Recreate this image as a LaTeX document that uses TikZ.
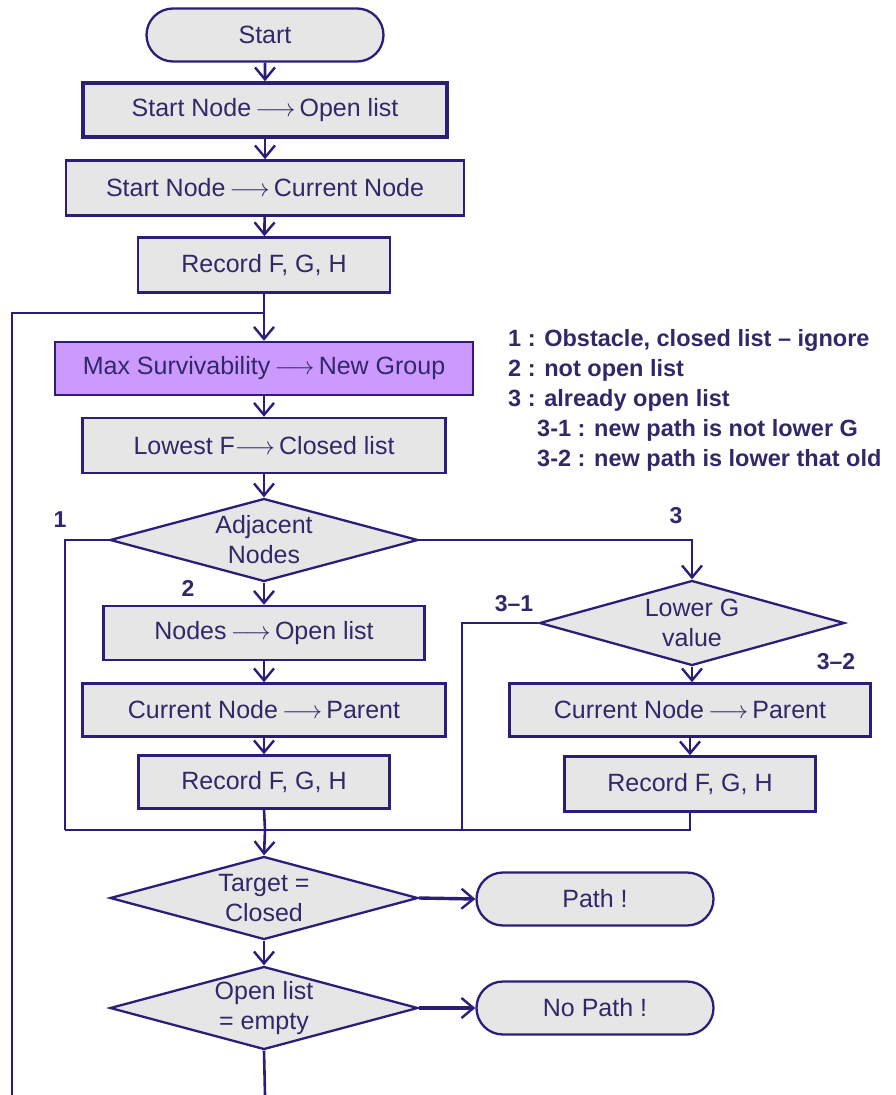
\documentclass[tikz,border=0pt]{standalone}
\usepackage{fontspec}
\setmainfont{Liberation Sans}
\usetikzlibrary{shapes.geometric,shapes.misc,arrows.meta}
\definecolor{ln}{RGB}{44,30,120}
\definecolor{tx}{RGB}{50,40,105}
\definecolor{gr}{RGB}{230,230,230}
\definecolor{pu}{RGB}{204,153,255}
\newcommand{\ar}{\,$\longrightarrow$\,}
\tikzset{
  every node/.style={text=tx},
  nfont/.style={font=\fontsize{25}{30}\selectfont},
  box/.style={rectangle, draw=ln, fill=gr, line width=2.5pt, inner sep=0pt, nfont},
  term/.style={rounded rectangle, draw=ln, fill=gr, line width=2.3pt, inner sep=0pt,
    minimum width=237pt, minimum height=53pt, nfont},
  dia/.style={diamond, draw=ln, fill=gr, line width=2.3pt, inner sep=0pt,
    minimum width=308pt, minimum height=83pt},
  dtext/.style={align=center, nfont, text=tx},
  lbl/.style={font=\fontsize{23}{26}\bfseries\selectfont},
  conn/.style={draw=ln, line width=2.6pt},
  arr/.style={conn, -{Straight Barb[length=12pt,width=20pt,line width=2.4pt]}},
  thinl/.style={draw=ln, line width=1.6pt}
}
\begin{document}
\begin{tikzpicture}[x=1pt,y=-1pt]
\useasboundingbox (0,0) rectangle (895,1095);
% main column
\node[term] (start) at (265,35) {Start};
\node[box, line width=3.5pt, minimum width=364pt, minimum height=54pt] (b1) at (265,110) {Start Node\ar Open list};
\node[box, minimum width=398pt, minimum height=55pt] (b2) at (265,188) {Start Node\ar Current Node};
\node[box, minimum width=252pt, minimum height=55pt] (b3) at (264,265) {Record F, G, H};
\node[box, fill=pu, minimum width=418pt, minimum height=53pt] (ms) at (264,368.5) {Max Survivability\ar New Group};
\node[box, minimum width=363pt, minimum height=55pt] (lf) at (264,445.5) {Lowest F$\longrightarrow$\,Closed list};
\node[dia, label={[dtext]center:Adjacent\\Nodes}] (adj) at (264,540) {};
\node[box, minimum width=321pt, minimum height=54pt] (no) at (264,633) {Nodes\ar Open list};
\node[box, minimum width=363pt, minimum height=53pt] (c1) at (264,710) {Current Node\ar Parent};
\node[box, minimum width=251pt, minimum height=53pt] (r1) at (264,782) {Record F, G, H};
% right branch
\node[dia, minimum width=305pt, minimum height=85pt, label={[dtext]center:Lower G\\value}] (lg) at (692,623) {};
\node[box, minimum width=361pt, minimum height=53pt] (c2) at (690,710) {Current Node\ar Parent};
\node[box, minimum width=251pt, minimum height=55pt] (r2) at (690,784) {Record F, G, H};
% bottom
\node[dia, label={[dtext]center:Target =\\Closed}] (tg) at (264,898) {};
\node[term] (pa) at (595,899) {Path !};
\node[dia, label={[dtext]center:Open list\\= empty}] (ol) at (264,1008) {};
\node[term] (np) at (595,1008) {No Path !};
% coordinates
\coordinate (m) at (265,830);
\coordinate (lc) at (65,830);
\coordinate (c31) at (462,830);
\coordinate (loopin) at (265,313);
\coordinate (bl) at (12,1095);
\coordinate (bm) at (265,1095);
% labels
\node[lbl] (l1) at (60,520) {1};
\node[lbl] (l2) at (188,588) {2};
\node[lbl] (l3) at (676,516) {3};
\node[lbl] (l31) at (514,604) {3–1};
\node[lbl] (l32) at (836,662) {3–2};
% legend
\node[anchor=north west, align=left, font=\fontsize{23.5}{30}\bfseries\selectfont, inner sep=0pt] (leg) at (508,329)
 {1 : Obstacle, closed list – ignore\\
  2 : not open list\\
  3 : already open list\\
  \hspace*{29pt}3-1 : new path is not lower G\\
  \hspace*{29pt}3-2 : new path is lower that old};
% connectors
\draw[arr] (start) -- (b1);
\draw[arr] (b1) -- (b2);
\draw[arr] (b2) -- (b3);
\draw[arr] (b3.south) -- (ms.north -| b3.south);
\draw[thinl] (bl) |- (loopin);
\draw[arr] (ms.south) -- (lf.north);
\draw[arr] (lf.south) -- (adj.north);
\draw[arr] (adj.east) -| (lg.north);
\draw[conn] (adj.west) -| (lc);
\draw[thinl] (lc) -- (m);
\draw[arr] (adj.south) -- (no.north);
\draw[arr] (no) -- (c1);
\draw[arr] (c1) -- (r1);
\draw[conn] (r1.south) -- (m);
\draw[conn] (lg.west) -| (c31) -- (m);
\draw[arr] (lg.south) -- (lg.south |- c2.north);
\draw[arr] (c2) -- (r2);
\draw[conn] (r2.south) |- (c31);
\draw[arr] (m) -- (tg.north);
\draw[arr, line width=3.4pt] (tg.east) -- (pa.west);
\draw[arr] (tg.south) -- (ol.north);
\draw[arr, line width=3.4pt] (ol.east) -- (np.west);
\draw[conn] (ol.south) -- (bm);
\end{tikzpicture}
\end{document}
